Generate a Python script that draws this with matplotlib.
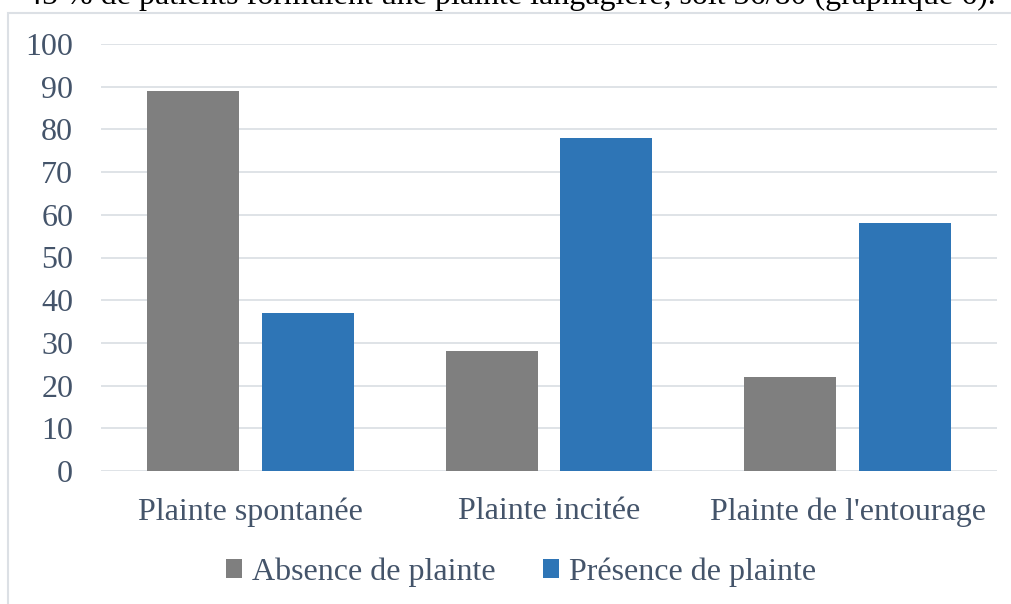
import matplotlib.pyplot as plt
import matplotlib.patches as mpatches
import numpy as np

categories = ["Plainte spontanée", "Plainte incitée", "Plainte de l'entourage"]
absence = [89, 28, 22]
presence = [37, 78, 58]
series_names = ["Absence de plainte", "Présence de plainte"]
yticks = list(range(0, 101, 10))

TXT = "#44546A"
GRID = "#DCE0E5"
GRAY = "#7F7F7F"
BLUE = "#2E75B6"

plt.rcParams["font.family"] = ["Liberation Serif", "DejaVu Serif"]

fig = plt.figure(figsize=(10.11, 6.04), dpi=100)
ax = fig.add_axes([101 / 1011, 1 - 471 / 604, 896 / 1011, 427 / 604])

x = np.arange(len(categories))
w = 0.308
off = 0.1925
ax.bar(x - off, absence, w, color=GRAY, label=series_names[0], zorder=3)
ax.bar(x + off, presence, w, color=BLUE, label=series_names[1], zorder=3)

ax.set_xlim(-0.5, 2.5)
ax.set_ylim(0, 100)
ax.set_yticks(yticks)
ax.set_xticks(x)
ax.set_xticklabels(categories)
ax.tick_params(axis="both", length=0, labelsize=23, labelcolor=TXT)
ax.tick_params(axis="y", pad=20)
ax.tick_params(axis="x", pad=19)
ax.yaxis.grid(True, color=GRID, linewidth=1.3, zorder=0)
for s in ax.spines.values():
    s.set_visible(False)

# chart frame (cropped on the right and bottom)
fig.patches.append(mpatches.Rectangle((8 / 1011, -0.05), 1.1, 1 - 13 / 604 + 0.05,
                                      transform=fig.transFigure, fill=False,
                                      edgecolor=GRID, linewidth=1.5))

fig.legend(loc="center", bbox_to_anchor=(521 / 1011, 1 - 572 / 604), ncol=2,
           frameon=False, fontsize=23, labelcolor=TXT, handlelength=0.5,
           handleheight=0.5, handletextpad=0.3, columnspacing=1.5)

# sentence above the chart, cut by the screenshot edge
fig.text(996 / 1011, 1 - 4 / 604,
         "45 % de patients formulent une plainte langagière, soit 36/80 (graphique 6).",
         ha="right", va="baseline", fontsize=23, color="black")

fig.savefig("out.png", dpi=100)
